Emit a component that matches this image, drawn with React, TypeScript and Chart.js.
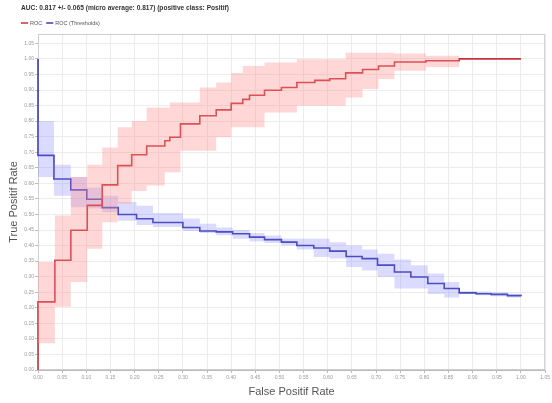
import React, { useEffect, useRef } from "react";
import { Chart, registerables } from "chart.js";

Chart.register(...registerables);

const titleText = "AUC: 0.817 +/- 0.065 (micro average: 0.817) (positive class: Positif)";
const rocLabel = "ROC";
const thrLabel = "ROC (Thresholds)";
const xAxisTitle = "False Positif Rate";
const yAxisTitle = "True Positif Rate";

// ROC curve (step) — false positive rate breakpoints
const rocX = [0, 0, 0.035, 0.068, 0.102, 0.133, 0.165, 0.194, 0.225, 0.2625, 0.273, 0.295, 0.335, 0.369, 0.4, 0.424, 0.438, 0.469, 0.504, 0.536, 0.573, 0.604, 0.637, 0.672, 0.705, 0.738, 0.803, 0.872, 1.0];
const rocMean = [0, 0.219, 0.353, 0.449, 0.529, 0.595, 0.657, 0.692, 0.72, 0.737, 0.748, 0.791, 0.817, 0.836, 0.857, 0.87, 0.883, 0.899, 0.908, 0.924, 0.931, 0.936, 0.955, 0.966, 0.977, 0.99, 0.994, 1.0, 1.0];
const rocUpper = [0, 0.347, 0.497, 0.62, 0.66, 0.715, 0.78, 0.8, 0.844, 0.844, 0.86, 0.86, 0.908, 0.924, 0.955, 0.977, 0.977, 0.988, 0.988, 0.999, 0.999, 0.999, 1.02, 1.02, 1.02, 1.017, 1.01, 1.0, 1.0];
const rocLower = [0, 0.086, 0.203, 0.283, 0.39, 0.475, 0.535, 0.575, 0.593, 0.636, 0.636, 0.705, 0.705, 0.748, 0.78, 0.78, 0.78, 0.828, 0.828, 0.849, 0.849, 0.849, 0.876, 0.903, 0.935, 0.962, 0.974, 1.0, 1.0];

// ROC thresholds curve (step)
const thrX = [0, 0, 0.033, 0.068, 0.101, 0.133, 0.166, 0.204, 0.238, 0.3, 0.335, 0.369, 0.403, 0.438, 0.469, 0.504, 0.536, 0.571, 0.604, 0.638, 0.671, 0.703, 0.738, 0.772, 0.807, 0.841, 0.872, 0.907, 0.938, 0.972, 1.0];
const thrMean = [1.0, 0.69, 0.614, 0.579, 0.549, 0.522, 0.5, 0.486, 0.474, 0.458, 0.447, 0.444, 0.438, 0.427, 0.419, 0.411, 0.4, 0.392, 0.382, 0.365, 0.358, 0.337, 0.315, 0.299, 0.278, 0.262, 0.248, 0.245, 0.243, 0.239, 0.237];
const thrUpper = [1.0, 0.8, 0.66, 0.62, 0.587, 0.56, 0.54, 0.528, 0.505, 0.487, 0.47, 0.458, 0.45, 0.44, 0.432, 0.422, 0.422, 0.422, 0.411, 0.4, 0.387, 0.374, 0.355, 0.337, 0.31, 0.283, 0.254, 0.252, 0.25, 0.245, 0.242];
const thrLower = [1.0, 0.62, 0.56, 0.523, 0.519, 0.507, 0.48, 0.466, 0.46, 0.447, 0.44, 0.433, 0.422, 0.414, 0.408, 0.4, 0.387, 0.363, 0.358, 0.331, 0.32, 0.299, 0.262, 0.262, 0.244, 0.233, 0.244, 0.24, 0.237, 0.233, 0.232];

const xMin = 0;
const xMax = 1.05;
const yMin = 0;
const yMax = 1.08;
const lastTick = 1.05;
const axisStep = 0.05;

const rocColor = "#c8323a";
const thrColor = "#3b3ba8";

const pts = (xs: number[], ys: number[]) => xs.map((x, i) => ({ x, y: ys[i] }));

export default function App() {
  const ref = useRef<HTMLCanvasElement | null>(null);

  useEffect(() => {
    if (!ref.current) return;
    const font = "'Liberation Sans', Arial, sans-serif";
    const band = (data: any, color: string, fill: any) => ({
      label: "",
      data,
      stepped: "before" as const,
      borderWidth: 0,
      borderColor: "rgba(0,0,0,0)",
      backgroundColor: color,
      pointRadius: 0,
      fill,
    });
    const fixedTicks = (s: any) => {
      const t: any[] = [];
      for (let i = 0; i * axisStep <= lastTick + 1e-9; i++) t.push({ value: +(i * axisStep).toFixed(2) });
      s.ticks = t;
    };
    const chart = new Chart(ref.current, {
      type: "line",
      data: {
        datasets: [
          band(pts(rocX, rocUpper), "rgba(255,140,140,0.35)", "+1"),
          band(pts(rocX, rocLower), "rgba(0,0,0,0)", false),
          {
            label: rocLabel,
            data: pts(rocX, rocMean),
            stepped: "before",
            borderColor: rocColor,
            backgroundColor: rocColor,
            borderWidth: 1.6,
            pointRadius: 0,
            fill: false,
            clip: 3,
          },
          band(pts(thrX, thrUpper), "rgba(125,125,255,0.28)", "+1"),
          band(pts(thrX, thrLower), "rgba(0,0,0,0)", false),
          {
            label: thrLabel,
            data: pts(thrX, thrMean),
            stepped: "before",
            borderColor: thrColor,
            backgroundColor: thrColor,
            borderWidth: 1.6,
            pointRadius: 0,
            fill: false,
            clip: 3,
          },
        ] as any,
      },
      options: {
        responsive: false,
        animation: false,
        layout: { padding: { top: 34, left: 0, right: 5, bottom: 0 } },
        plugins: {
          tooltip: { enabled: false },
          title: { display: false },
          legend: { display: false },
        },
        scales: {
          x: {
            type: "linear",
            min: xMin,
            max: xMax,
            afterFit: (s: any) => { s.height = 33; },
            afterBuildTicks: fixedTicks,
            ticks: {
              autoSkip: false,
              maxRotation: 0,
              color: "#999",
              font: { family: font, size: 5 },
              padding: 2,
              callback: (v: any) => Number(v).toFixed(2),
            },
            grid: { color: "#ececec", tickLength: 3, tickColor: "#bbb" },
            border: { color: "#bbb" },
            title: {
              display: true,
              text: xAxisTitle,
              color: "#555",
              font: { family: font, size: 11 },
              padding: { top: 2, bottom: 4 },
            },
          },
          y: {
            type: "linear",
            min: yMin,
            max: yMax,
            afterFit: (s: any) => { s.width = 38; },
            afterBuildTicks: fixedTicks,
            ticks: {
              autoSkip: false,
              color: "#999",
              font: { family: font, size: 5 },
              padding: 1,
              callback: (v: any) => Number(v).toFixed(2),
            },
            grid: { color: "#ececec", tickLength: 3, tickColor: "#bbb" },
            border: { color: "#bbb" },
            title: {
              display: true,
              text: yAxisTitle,
              color: "#555",
              font: { family: font, size: 11 },
              padding: { top: 7, bottom: 2 },
            },
          },
        },
      },
      plugins: [
        {
          id: "frame",
          beforeDatasetsDraw: (c: any) => {
            const a = c.chartArea;
            const ctx = c.ctx;
            ctx.save();
            ctx.strokeStyle = "#cfcfcf";
            ctx.lineWidth = 1;
            ctx.strokeRect(a.left + 0.5, a.top + 0.5, a.right - a.left - 1, a.bottom - a.top - 1);
            ctx.restore();
          },
        },
        {
          id: "header",
          afterDraw: (c: any) => {
            const ctx = c.ctx;
            ctx.save();
            ctx.fillStyle = "#333";
            ctx.textBaseline = "middle";
            ctx.textAlign = "left";
            ctx.font = `bold 6.6px ${font}`;
            ctx.fillText(titleText, 21, 8);
            ctx.font = `5.5px ${font}`;
            let x = 21;
            const y = 23;
            const items = [
              { t: rocLabel, c: rocColor },
              { t: thrLabel, c: thrColor },
            ];
            for (const it of items) {
              ctx.strokeStyle = it.c;
              ctx.lineWidth = 1.5;
              ctx.beginPath();
              ctx.moveTo(x, y);
              ctx.lineTo(x + 7, y);
              ctx.stroke();
              ctx.fillStyle = "#555";
              ctx.fillText(it.t, x + 9, y);
              x += 9 + ctx.measureText(it.t).width + 4;
            }
            ctx.restore();
          },
        },
      ],
    });
    return () => chart.destroy();
  }, []);

  return (
    <canvas
      ref={ref}
      width={552}
      height={403}
      style={{ position: "fixed", left: 0, top: 0, width: 552, height: 403, background: "#fff" }}
    />
  );
}
